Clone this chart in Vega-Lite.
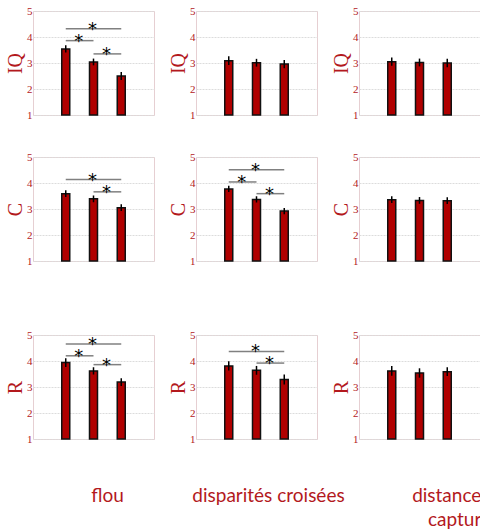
{
"$schema":"https://vega.github.io/schema/vega-lite/v6.json",
"padding":{"left":4,"top":4,"right":0,"bottom":0},
"datasets":{"d":[
{"m":"IQ","c":"f","k":"bar","p":1,"v":3.54,"e":0.14},
{"m":"IQ","c":"f","k":"bar","p":2,"v":3.04,"e":0.13},
{"m":"IQ","c":"f","k":"bar","p":3,"v":2.50,"e":0.15},
{"m":"IQ","c":"d","k":"bar","p":1,"v":3.09,"e":0.17},
{"m":"IQ","c":"d","k":"bar","p":2,"v":3.01,"e":0.15},
{"m":"IQ","c":"d","k":"bar","p":3,"v":2.96,"e":0.16},
{"m":"IQ","c":"s","k":"bar","p":1,"v":3.05,"e":0.16},
{"m":"IQ","c":"s","k":"bar","p":2,"v":3.02,"e":0.15},
{"m":"IQ","c":"s","k":"bar","p":3,"v":3.00,"e":0.16},
{"m":"C","c":"f","k":"bar","p":1,"v":3.59,"e":0.13},
{"m":"C","c":"f","k":"bar","p":2,"v":3.39,"e":0.13},
{"m":"C","c":"f","k":"bar","p":3,"v":3.05,"e":0.13},
{"m":"C","c":"d","k":"bar","p":1,"v":3.77,"e":0.12},
{"m":"C","c":"d","k":"bar","p":2,"v":3.37,"e":0.12},
{"m":"C","c":"d","k":"bar","p":3,"v":2.92,"e":0.12},
{"m":"C","c":"s","k":"bar","p":1,"v":3.36,"e":0.13},
{"m":"C","c":"s","k":"bar","p":2,"v":3.33,"e":0.13},
{"m":"C","c":"s","k":"bar","p":3,"v":3.32,"e":0.13},
{"m":"R","c":"f","k":"bar","p":1,"v":3.94,"e":0.17},
{"m":"R","c":"f","k":"bar","p":2,"v":3.62,"e":0.14},
{"m":"R","c":"f","k":"bar","p":3,"v":3.19,"e":0.15},
{"m":"R","c":"d","k":"bar","p":1,"v":3.81,"e":0.18},
{"m":"R","c":"d","k":"bar","p":2,"v":3.64,"e":0.17},
{"m":"R","c":"d","k":"bar","p":3,"v":3.29,"e":0.19},
{"m":"R","c":"s","k":"bar","p":1,"v":3.62,"e":0.19},
{"m":"R","c":"s","k":"bar","p":2,"v":3.54,"e":0.18},
{"m":"R","c":"s","k":"bar","p":3,"v":3.59,"e":0.17},
{"m":"IQ","c":"f","k":"sig","p":1,"p2":3,"v":4.32},
{"m":"IQ","c":"f","k":"sig","p":1,"p2":2,"v":3.86},
{"m":"IQ","c":"f","k":"sig","p":2,"p2":3,"v":3.35},
{"m":"C","c":"f","k":"sig","p":1,"p2":3,"v":4.13},
{"m":"C","c":"f","k":"sig","p":2,"p2":3,"v":3.66},
{"m":"C","c":"d","k":"sig","p":1,"p2":3,"v":4.51},
{"m":"C","c":"d","k":"sig","p":1,"p2":2,"v":4.04},
{"m":"C","c":"d","k":"sig","p":2,"p2":3,"v":3.59},
{"m":"R","c":"f","k":"sig","p":1,"p2":3,"v":4.65},
{"m":"R","c":"f","k":"sig","p":1,"p2":2,"v":4.20},
{"m":"R","c":"f","k":"sig","p":2,"p2":3,"v":3.86},
{"m":"R","c":"d","k":"sig","p":1,"p2":3,"v":4.37},
{"m":"R","c":"d","k":"sig","p":2,"p2":3,"v":3.92},
{"m":"IQ","c":"f","k":"star","p":2,"v":4.32},
{"m":"IQ","c":"f","k":"star","p":1.5,"v":3.86},
{"m":"IQ","c":"f","k":"star","p":2.5,"v":3.35},
{"m":"C","c":"f","k":"star","p":2,"v":4.13},
{"m":"C","c":"f","k":"star","p":2.5,"v":3.66},
{"m":"C","c":"d","k":"star","p":2,"v":4.51},
{"m":"C","c":"d","k":"star","p":1.5,"v":4.04},
{"m":"C","c":"d","k":"star","p":2.5,"v":3.59},
{"m":"R","c":"f","k":"star","p":2,"v":4.65},
{"m":"R","c":"f","k":"star","p":1.5,"v":4.20},
{"m":"R","c":"f","k":"star","p":2.5,"v":3.86},
{"m":"R","c":"d","k":"star","p":2,"v":4.37},
{"m":"R","c":"d","k":"star","p":2.5,"v":3.92}
]},
"spacing":61,
"vconcat":[
{"spacing":29,"vconcat":[
{"bounds":"flush","spacing":42,"hconcat":[
{"width":121,"height":104,"data":{"name":"d"},"transform":[{"filter":"datum.m=='IQ' && datum.c=='f'"}],
"encoding":{"x":{"field":"p","type":"quantitative","scale":{"domain":[0,4],"nice":false,"zero":false},"axis":null},
"y":{"field":"v","type":"quantitative","scale":{"domain":[1,5],"nice":false,"zero":false},"axis":{"title":"IQ","values":[1,2,3,4,5]}}},
"layer":[
{"transform":[{"filter":"datum.k=='bar'"}],"mark":{"type":"bar","size":8,"fill":"#b00000","stroke":"#111111","strokeWidth":1.5},"encoding":{"y2":{"datum":1}}},
{"transform":[{"filter":"datum.k=='bar'"}],"mark":{"type":"errorbar","color":"#000000","thickness":1.5},"encoding":{"yError":{"field":"e"}}},
{"transform":[{"filter":"datum.k=='sig'"}],"mark":{"type":"rule","color":"#808080","strokeWidth":1.5},"encoding":{"x2":{"field":"p2"}}},
{"transform":[{"filter":"datum.k=='star'"}],"mark":{"type":"text","text":"*","font":"DejaVu Sans","fontSize":18,"baseline":"alphabetic","dy":6,"dx":-1,"color":"#000000"},"encoding":{}}]},
{"width":121,"height":104,"data":{"name":"d"},"transform":[{"filter":"datum.m=='IQ' && datum.c=='d'"}],
"encoding":{"x":{"field":"p","type":"quantitative","scale":{"domain":[0,4],"nice":false,"zero":false},"axis":null},
"y":{"field":"v","type":"quantitative","scale":{"domain":[1,5],"nice":false,"zero":false},"axis":{"title":"IQ","values":[1,2,3,4,5]}}},
"layer":[
{"transform":[{"filter":"datum.k=='bar'"}],"mark":{"type":"bar","size":8,"fill":"#b00000","stroke":"#111111","strokeWidth":1.5},"encoding":{"y2":{"datum":1}}},
{"transform":[{"filter":"datum.k=='bar'"}],"mark":{"type":"errorbar","color":"#000000","thickness":1.5},"encoding":{"yError":{"field":"e"}}}]},
{"width":121,"height":104,"data":{"name":"d"},"transform":[{"filter":"datum.m=='IQ' && datum.c=='s'"}],
"encoding":{"x":{"field":"p","type":"quantitative","scale":{"domain":[0,4],"nice":false,"zero":false},"axis":null},
"y":{"field":"v","type":"quantitative","scale":{"domain":[1,5],"nice":false,"zero":false},"axis":{"title":"IQ","values":[1,2,3,4,5]}}},
"layer":[
{"transform":[{"filter":"datum.k=='bar'"}],"mark":{"type":"bar","size":8,"fill":"#b00000","stroke":"#111111","strokeWidth":1.5},"encoding":{"y2":{"datum":1}}},
{"transform":[{"filter":"datum.k=='bar'"}],"mark":{"type":"errorbar","color":"#000000","thickness":1.5},"encoding":{"yError":{"field":"e"}}}]}
]},
{"bounds":"flush","spacing":42,"hconcat":[
{"width":121,"height":104,"data":{"name":"d"},"transform":[{"filter":"datum.m=='C' && datum.c=='f'"}],
"encoding":{"x":{"field":"p","type":"quantitative","scale":{"domain":[0,4],"nice":false,"zero":false},"axis":null},
"y":{"field":"v","type":"quantitative","scale":{"domain":[1,5],"nice":false,"zero":false},"axis":{"title":"C","values":[1,2,3,4,5]}}},
"layer":[
{"transform":[{"filter":"datum.k=='bar'"}],"mark":{"type":"bar","size":8,"fill":"#b00000","stroke":"#111111","strokeWidth":1.5},"encoding":{"y2":{"datum":1}}},
{"transform":[{"filter":"datum.k=='bar'"}],"mark":{"type":"errorbar","color":"#000000","thickness":1.5},"encoding":{"yError":{"field":"e"}}},
{"transform":[{"filter":"datum.k=='sig'"}],"mark":{"type":"rule","color":"#808080","strokeWidth":1.5},"encoding":{"x2":{"field":"p2"}}},
{"transform":[{"filter":"datum.k=='star'"}],"mark":{"type":"text","text":"*","font":"DejaVu Sans","fontSize":18,"baseline":"alphabetic","dy":6,"dx":-1,"color":"#000000"},"encoding":{}}]},
{"width":121,"height":104,"data":{"name":"d"},"transform":[{"filter":"datum.m=='C' && datum.c=='d'"}],
"encoding":{"x":{"field":"p","type":"quantitative","scale":{"domain":[0,4],"nice":false,"zero":false},"axis":null},
"y":{"field":"v","type":"quantitative","scale":{"domain":[1,5],"nice":false,"zero":false},"axis":{"title":"C","values":[1,2,3,4,5]}}},
"layer":[
{"transform":[{"filter":"datum.k=='bar'"}],"mark":{"type":"bar","size":8,"fill":"#b00000","stroke":"#111111","strokeWidth":1.5},"encoding":{"y2":{"datum":1}}},
{"transform":[{"filter":"datum.k=='bar'"}],"mark":{"type":"errorbar","color":"#000000","thickness":1.5},"encoding":{"yError":{"field":"e"}}},
{"transform":[{"filter":"datum.k=='sig'"}],"mark":{"type":"rule","color":"#808080","strokeWidth":1.5},"encoding":{"x2":{"field":"p2"}}},
{"transform":[{"filter":"datum.k=='star'"}],"mark":{"type":"text","text":"*","font":"DejaVu Sans","fontSize":18,"baseline":"alphabetic","dy":6,"dx":-1,"color":"#000000"},"encoding":{}}]},
{"width":121,"height":104,"data":{"name":"d"},"transform":[{"filter":"datum.m=='C' && datum.c=='s'"}],
"encoding":{"x":{"field":"p","type":"quantitative","scale":{"domain":[0,4],"nice":false,"zero":false},"axis":null},
"y":{"field":"v","type":"quantitative","scale":{"domain":[1,5],"nice":false,"zero":false},"axis":{"title":"C","values":[1,2,3,4,5]}}},
"layer":[
{"transform":[{"filter":"datum.k=='bar'"}],"mark":{"type":"bar","size":8,"fill":"#b00000","stroke":"#111111","strokeWidth":1.5},"encoding":{"y2":{"datum":1}}},
{"transform":[{"filter":"datum.k=='bar'"}],"mark":{"type":"errorbar","color":"#000000","thickness":1.5},"encoding":{"yError":{"field":"e"}}}]}
]}
]},
{"bounds":"flush","spacing":42,"hconcat":[
{"width":121,"height":104,"data":{"name":"d"},"transform":[{"filter":"datum.m=='R' && datum.c=='f'"}],
"encoding":{"x":{"field":"p","type":"quantitative","scale":{"domain":[0,4],"nice":false,"zero":false},"axis":{"title":"flou","titleX":74}},
"y":{"field":"v","type":"quantitative","scale":{"domain":[1,5],"nice":false,"zero":false},"axis":{"title":"R","values":[1,2,3,4,5]}}},
"layer":[
{"transform":[{"filter":"datum.k=='bar'"}],"mark":{"type":"bar","size":8,"fill":"#b00000","stroke":"#111111","strokeWidth":1.5},"encoding":{"y2":{"datum":1}}},
{"transform":[{"filter":"datum.k=='bar'"}],"mark":{"type":"errorbar","color":"#000000","thickness":1.5},"encoding":{"yError":{"field":"e"}}},
{"transform":[{"filter":"datum.k=='sig'"}],"mark":{"type":"rule","color":"#808080","strokeWidth":1.5},"encoding":{"x2":{"field":"p2"}}},
{"transform":[{"filter":"datum.k=='star'"}],"mark":{"type":"text","text":"*","font":"DejaVu Sans","fontSize":18,"baseline":"alphabetic","dy":6,"dx":-1,"color":"#000000"},"encoding":{}}]},
{"width":121,"height":104,"data":{"name":"d"},"transform":[{"filter":"datum.m=='R' && datum.c=='d'"}],
"encoding":{"x":{"field":"p","type":"quantitative","scale":{"domain":[0,4],"nice":false,"zero":false},"axis":{"title":"disparités croisées","titleX":72}},
"y":{"field":"v","type":"quantitative","scale":{"domain":[1,5],"nice":false,"zero":false},"axis":{"title":"R","values":[1,2,3,4,5]}}},
"layer":[
{"transform":[{"filter":"datum.k=='bar'"}],"mark":{"type":"bar","size":8,"fill":"#b00000","stroke":"#111111","strokeWidth":1.5},"encoding":{"y2":{"datum":1}}},
{"transform":[{"filter":"datum.k=='bar'"}],"mark":{"type":"errorbar","color":"#000000","thickness":1.5},"encoding":{"yError":{"field":"e"}}},
{"transform":[{"filter":"datum.k=='sig'"}],"mark":{"type":"rule","color":"#808080","strokeWidth":1.5},"encoding":{"x2":{"field":"p2"}}},
{"transform":[{"filter":"datum.k=='star'"}],"mark":{"type":"text","text":"*","font":"DejaVu Sans","fontSize":18,"baseline":"alphabetic","dy":6,"dx":-1,"color":"#000000"},"encoding":{}}]},
{"width":121,"height":104,"data":{"name":"d"},"transform":[{"filter":"datum.m=='R' && datum.c=='s'"}],
"encoding":{"x":{"field":"p","type":"quantitative","scale":{"domain":[0,4],"nice":false,"zero":false},"axis":{"title":["distance de","capture"],"titleX":100}},
"y":{"field":"v","type":"quantitative","scale":{"domain":[1,5],"nice":false,"zero":false},"axis":{"title":"R","values":[1,2,3,4,5]}}},
"layer":[
{"transform":[{"filter":"datum.k=='bar'"}],"mark":{"type":"bar","size":8,"fill":"#b00000","stroke":"#111111","strokeWidth":1.5},"encoding":{"y2":{"datum":1}}},
{"transform":[{"filter":"datum.k=='bar'"}],"mark":{"type":"errorbar","color":"#000000","thickness":1.5},"encoding":{"yError":{"field":"e"}}}]}
]}
],
"config":{
"view":{"stroke":"#e6cfd2","strokeWidth":1},
"axisY":{"domain":false,"ticks":false,"labelFont":"Liberation Serif","labelFontSize":11,"labelColor":"#b3191d","labelPadding":1,"minExtent":6,"maxExtent":6,"titleFont":"Liberation Serif","titleFontSize":20,"titleFontWeight":"normal","titleColor":"#b3191d","titlePadding":6,"titleBaseline":"alphabetic","gridColor":"#dcdcdc","gridDash":[2,1],"gridWidth":1},
"axisX":{"domain":false,"ticks":false,"labels":false,"grid":false,"titleFont":"Lato","titleFontSize":19,"titleFontWeight":"normal","titleColor":"#b3191d","titlePadding":47,"titleLineHeight":24}
}
}
